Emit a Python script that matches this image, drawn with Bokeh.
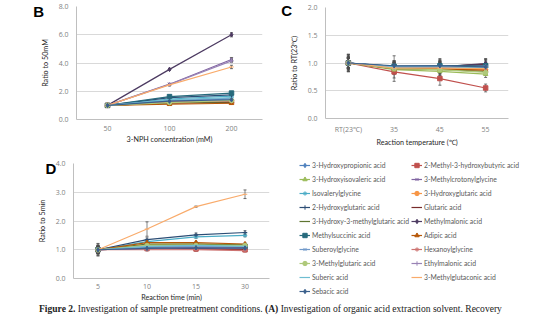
from bokeh.plotting import figure
from bokeh.models import (FactorRange, Range1d, FixedTicker, NumeralTickFormatter,
                          ColumnDataSource, Whisker, TeeHead, Label, Legend, LegendItem, Div)
from bokeh.layouts import column, row
from bokeh.embed import file_html
from bokeh.resources import INLINE

names = [
    "3-Hydroxypropionic acid", "2-Methyl-3-hydroxybutyric acid",
    "3-Hydroxyisovaleric acid", "3-Methylcrotonylglycine",
    "Isovalerylglycine", "3-Hydroxyglutaric acid",
    "2-Hydroxyglutaric acid", "Glutaric acid",
    "3-Hydroxy-3-methylglutaric acid", "Methylmalonic acid",
    "Methylsuccinic acid", "Adipic acid",
    "Suberoylglycine", "Hexanoylglycine",
    "3-Methylglutaric acid", "Ethylmalonic acid",
    "Suberic acid", "3-Methylglutaconic acid",
    "Sebacic acid",
]
colors = ["#4F81BD", "#C0504D", "#9BBB59", "#8064A2", "#4BACC6", "#F79646",
          "#2C4D75", "#772C2A", "#5F7530", "#4D3B62", "#276A7C", "#B65708",
          "#729ACA", "#CD7371", "#AFC97A", "#9983B5", "#6FBDD1", "#F9AB6B",
          "#3A5F8B"]
markers = ["diamond", "square", "triangle", "x", "asterisk", "circle", "cross", "dash", "dash",
           "diamond", "square", "triangle", "x", "asterisk", "circle", "cross", "dash", "dash",
           "diamond"]

# Panel B: ratio to 50 mM vs 3-NPH concentration
b_cats = ["50", "100", "200"]
b_values = [
    [1.0, 1.30, 1.45], [1.0, 1.20, 1.25], [1.0, 1.20, 1.30], [1.0, 2.50, 4.25],
    [1.0, 1.45, 1.65], [1.0, 1.15, 1.22], [1.0, 1.55, 1.75], [1.0, 1.18, 1.20],
    [1.0, 1.20, 1.25], [1.0, 3.55, 6.00], [1.0, 1.62, 1.87], [1.0, 1.08, 1.15],
    [1.0, 1.35, 1.50], [1.0, 1.25, 1.30], [1.0, 1.20, 1.35], [1.0, 2.48, 4.15],
    [1.0, 1.40, 1.55], [1.0, 2.45, 3.72], [1.0, 1.30, 1.40],
]
b_errors = [
    [0.03, 0.05, 0.06], [0.03, 0.04, 0.05], [0.03, 0.04, 0.05], [0.03, 0.06, 0.14],
    [0.03, 0.05, 0.06], [0.03, 0.04, 0.05], [0.03, 0.05, 0.06], [0.03, 0.04, 0.05],
    [0.03, 0.04, 0.05], [0.03, 0.06, 0.15], [0.03, 0.05, 0.06], [0.03, 0.04, 0.05],
    [0.03, 0.05, 0.06], [0.03, 0.04, 0.05], [0.03, 0.04, 0.05], [0.03, 0.05, 0.10],
    [0.03, 0.05, 0.06], [0.03, 0.08, 0.12], [0.03, 0.05, 0.05],
]

# Panel C: ratio to RT vs reaction temperature
c_cats = ["RT(23℃)", "35", "45", "55"]
c_values = [
    [1.0, 0.93, 0.93, 0.93], [1.0, 0.84, 0.72, 0.55], [1.0, 0.88, 0.85, 0.80],
    [1.0, 0.92, 0.92, 0.95], [1.0, 0.93, 0.94, 0.92], [1.0, 0.91, 0.90, 0.88],
    [1.0, 0.94, 0.94, 0.97], [1.0, 0.92, 0.93, 0.98], [1.0, 0.90, 0.88, 0.85],
    [1.0, 0.93, 0.93, 0.99], [1.0, 0.94, 0.95, 0.95], [1.0, 0.90, 0.89, 0.87],
    [1.0, 0.93, 0.94, 0.93], [1.0, 0.92, 0.92, 0.90], [1.0, 0.90, 0.88, 0.83],
    [1.0, 0.92, 0.93, 0.94], [1.0, 0.93, 0.93, 0.91], [1.0, 0.91, 0.91, 0.90],
    [1.0, 0.95, 0.95, 0.93],
]
c_errors = [
    [0.12, 0.10, 0.10, 0.08], [0.15, 0.17, 0.12, 0.07], [0.10, 0.08, 0.08, 0.06],
    [0.15, 0.12, 0.12, 0.10], [0.10, 0.08, 0.08, 0.07], [0.08, 0.07, 0.07, 0.06],
    [0.14, 0.10, 0.12, 0.10], [0.10, 0.08, 0.08, 0.08], [0.08, 0.06, 0.06, 0.05],
    [0.16, 0.20, 0.15, 0.09], [0.09, 0.08, 0.10, 0.08], [0.08, 0.06, 0.06, 0.06],
    [0.10, 0.08, 0.08, 0.07], [0.12, 0.09, 0.09, 0.08], [0.08, 0.06, 0.06, 0.05],
    [0.10, 0.08, 0.08, 0.07], [0.08, 0.06, 0.06, 0.06], [0.09, 0.07, 0.07, 0.07],
    [0.10, 0.08, 0.08, 0.07],
]

# Panel D: ratio to 5 min vs reaction time
d_cats = ["5", "10", "15", "30"]
d_values = [
    [1.0, 1.10, 1.12, 1.10], [1.0, 1.05, 1.03, 1.00], [1.0, 1.18, 1.20, 1.15],
    [1.0, 1.10, 1.10, 1.08], [1.0, 1.28, 1.45, 1.50], [1.0, 1.15, 1.15, 1.12],
    [1.0, 1.35, 1.52, 1.60], [1.0, 1.05, 1.05, 1.02], [1.0, 1.20, 1.20, 1.18],
    [1.0, 1.05, 1.05, 1.05], [1.0, 1.08, 1.10, 1.12], [1.0, 1.25, 1.25, 1.20],
    [1.0, 1.10, 1.12, 1.12], [1.0, 1.00, 1.00, 0.97], [1.0, 1.15, 1.15, 1.15],
    [1.0, 1.05, 1.08, 1.05], [1.0, 1.12, 1.15, 1.12], [1.0, 1.72, 2.50, 2.93],
    [1.0, 1.05, 1.07, 1.06],
]
d_errors = [
    [0.15, 0.05, 0.05, 0.04], [0.10, 0.04, 0.06, 0.04], [0.12, 0.05, 0.05, 0.04],
    [0.10, 0.04, 0.04, 0.04], [0.20, 0.05, 0.05, 0.05], [0.12, 0.04, 0.04, 0.04],
    [0.22, 0.06, 0.06, 0.06], [0.10, 0.04, 0.04, 0.03], [0.12, 0.04, 0.04, 0.04],
    [0.10, 0.04, 0.04, 0.04], [0.15, 0.05, 0.05, 0.05], [0.12, 0.04, 0.04, 0.04],
    [0.12, 0.04, 0.04, 0.04], [0.10, 0.04, 0.06, 0.04], [0.12, 0.04, 0.04, 0.04],
    [0.10, 0.04, 0.04, 0.04], [0.12, 0.04, 0.04, 0.04], [0.08, 0.25, 0.02, 0.15],
    [0.10, 0.04, 0.04, 0.04],
]

b_ticks = [0, 2, 4, 6, 8]
c_ticks = [0, 0.5, 1.0, 1.5, 2.0]
d_ticks = [0, 1, 2, 3, 4]

AX_FONT = "Lato"
TICK_FONT = "Open Sans"


def make_panel(cats, values, errors, ticks, xlabel, ylabel, width, height,
               left, right, top, bottom, x_standoff=6):
    p = figure(x_range=FactorRange(*cats), y_range=Range1d(ticks[0], ticks[-1]),
               width=width, height=height, output_backend="svg", toolbar_location=None,
               min_border_left=left, min_border_right=right,
               min_border_top=top, min_border_bottom=bottom, title=None)
    p.frame_align = False
    p.outline_line_color = None
    p.background_fill_color = "white"
    p.border_fill_color = "white"
    p.xgrid.visible = False
    p.ygrid.grid_line_color = "#D9D9D9"
    p.ygrid.grid_line_width = 1
    p.yaxis.ticker = FixedTicker(ticks=ticks)
    p.yaxis.formatter = NumeralTickFormatter(format="0.0")
    for ax in (p.xaxis[0], p.yaxis[0]):
        ax.major_tick_line_color = None
        ax.minor_tick_line_color = None
        ax.major_tick_out = 0
        ax.major_tick_in = 0
        ax.minor_tick_out = 0
        ax.minor_tick_in = 0
        ax.axis_line_color = "#BFBFBF"
        ax.major_label_text_font = TICK_FONT
        ax.major_label_text_font_size = "7px"
        ax.major_label_text_color = "#7F7F7F"
        ax.axis_label_text_font = AX_FONT
        ax.axis_label_text_font_size = "7.2px"
        ax.axis_label_text_font_style = "normal"
        ax.axis_label_text_color = "#262626"
    p.xaxis.axis_label = xlabel
    p.yaxis.axis_label = ylabel
    p.xaxis.major_label_standoff = x_standoff
    p.xaxis.axis_label_standoff = 1
    p.yaxis.major_label_standoff = 8
    p.yaxis.axis_label_standoff = 6

    renderers = []
    for i, name in enumerate(names):
        src = ColumnDataSource(dict(
            x=cats, y=values[i],
            upper=[v + e for v, e in zip(values[i], errors[i])],
            lower=[v - e for v, e in zip(values[i], errors[i])],
        ))
        ln = p.line("x", "y", source=src, line_color=colors[i], line_width=1.2)
        sc = p.scatter("x", "y", source=src, marker=markers[i], size=4.5,
                       line_color=colors[i], fill_color=colors[i])
        w = Whisker(base="x", upper="upper", lower="lower", source=src,
                    line_color="#4D4D4D", line_width=0.8, line_alpha=0.85,
                    upper_head=TeeHead(size=3, line_color="#4D4D4D", line_width=0.8),
                    lower_head=TeeHead(size=3, line_color="#4D4D4D", line_width=0.8))
        p.add_layout(w)
        renderers.append((name, [ln, sc]))
    return p, renderers


def letter(p, text, x, y):
    # placed in a side panel so that it is not clipped to the plot frame
    p.add_layout(Label(text=text, x=x, y=y, text_font="Liberation Sans",
                       text_font_style="bold", text_font_size="15px",
                       text_align="center", text_baseline="middle",
                       text_color="black"), "left")


pB, _ = make_panel(b_cats, b_values, b_errors, b_ticks, "3-NPH concentration (mM)",
                   "Ratio to 50mM", 275, 150, 76, 13, 6, 31)
pC, _ = make_panel(c_cats, c_values, c_errors, c_ticks, "Reaction temperature (℃)",
                   "Ratio to RT(23℃)", 275, 150, 46, 42, 7, 32)
pD, _ = make_panel(d_cats, d_values, d_errors, d_ticks, "Reaction time (min)",
                   "Ratio to 5min", 290, 154, 73, 21, 13, 24, x_standoff=5)

letter(pB, "B", -0.61, 7.65)
letter(pC, "C", -0.85, 1.95)
letter(pD, "D", -0.46, 3.82)

# Legend panel: a blank plot holding the legend; its renderers are kept out of view
pL = figure(width=260, height=154, output_backend="svg", toolbar_location=None,
            x_range=Range1d(0, 1), y_range=Range1d(0, 1),
            x_axis_location=None, y_axis_location=None, title=None,
            min_border_left=0, min_border_right=0, min_border_top=0, min_border_bottom=0)
pL.frame_align = False
pL.outline_line_color = None
pL.xgrid.visible = False
pL.ygrid.visible = False
leg_items = {}
for i, name in enumerate(names):
    src = ColumnDataSource(dict(x=[5, 6], y=[5, 6]))
    ln = pL.line("x", "y", source=src, line_color=colors[i], line_width=1.2)
    sc = pL.scatter("x", "y", source=src, marker=markers[i], size=4.5,
                    line_color=colors[i], fill_color=colors[i])
    leg_items[name] = LegendItem(label=name, renderers=[ln, sc])
# two columns read row by row: left column holds even entries, right column odd entries
ordered = [leg_items[n] for n in names[0::2]] + [leg_items[n] for n in names[1::2]]
legend = Legend(items=ordered, orientation="vertical", ncols=2, location="top_left",
                glyph_width=11, glyph_height=12, label_height=12, label_standoff=2,
                spacing=2, padding=0, margin=9,
                label_text_font=AX_FONT, label_text_font_size="6.8px",
                label_text_color="#595959",
                border_line_color=None, background_fill_alpha=0)
pL.add_layout(legend)

caption = Div(
    text='<b>Figure 2.</b> Investigation of sample pretreatment conditions. '
         '<b>(A)</b> Investigation of organic acid extraction solvent. Recovery',
    width=550, height=21, margin=0,
    styles={"font-family": "Liberation Serif", "font-size": "9.55px", "color": "#222",
            "padding-left": "39px", "padding-top": "0px", "white-space": "nowrap",
            "line-height": "10px"})

layout = column(row(pB, pC, spacing=0), row(pD, pL, spacing=0), caption, spacing=0)

open("out.html", "w").write(file_html(layout, INLINE))
